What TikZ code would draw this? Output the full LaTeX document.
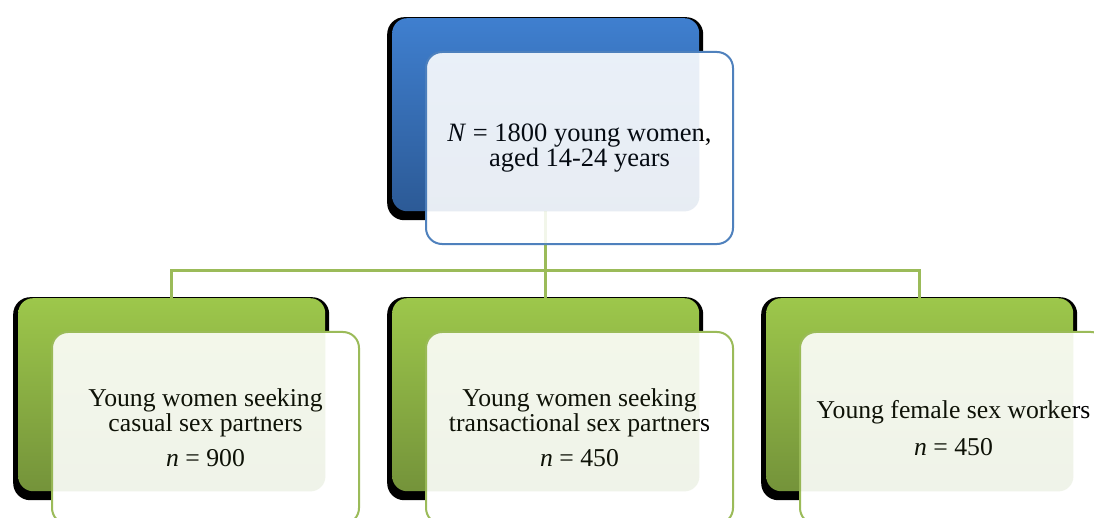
\documentclass[tikz,border=0pt]{standalone}
\usepackage{fontspec}
\setmainfont{Liberation Serif}
\definecolor{blueA}{HTML}{3F7FCF}
\definecolor{blueB}{HTML}{2C5A96}
\definecolor{blueLine}{HTML}{4F81BD}
\definecolor{greenA}{HTML}{9DC74B}
\definecolor{greenB}{HTML}{74933A}
\definecolor{greenLine}{HTML}{9BBB59}
\begin{document}
\begin{tikzpicture}[x=1bp,y=-1bp,
  shadowbox/.style={fill=black, rounded corners=17bp, minimum width=316bp,
    minimum height=203bp, anchor=north west, inner sep=0pt, draw=none},
  backbox/.style={rounded corners=15bp, minimum width=307bp, minimum height=193bp,
    anchor=north west, inner sep=0pt, draw=none},
  blueback/.style={backbox, top color=blueA, bottom color=blueB},
  greenback/.style={backbox, top color=greenA, bottom color=greenB},
  frontbox/.style={rounded corners=16bp, minimum width=307bp, minimum height=192bp,
    anchor=north west, inner sep=0pt, line width=2bp, fill=white,
    align=center, font=\fontsize{25.7bp}{25bp}\selectfont},
  tint/.style={opacity=0.11, rounded corners=15bp},
  conn/.style={draw=greenLine, line width=2.5bp}
]
\useasboundingbox (0,0) rectangle (1094,518);
\clip (0,0) rectangle (1094,518);
\fill[white] (0,0) rectangle (1094,518);

% back boxes
\node[shadowbox] (topsh) at (387,17) {};
\node[blueback] (topback) at (392,18) {};
\node[shadowbox] (lsh) at (13,297) {};
\node[greenback] (lback) at (18,298) {};
\node[shadowbox] (msh) at (387,297) {};
\node[greenback] (mback) at (392,298) {};
\node[shadowbox] (rsh) at (761,297) {};
\node[greenback] (rback) at (766,298) {};

% connectors
\coordinate (bar) at (545,270.7);
\draw[conn] (topback.south) -- (topback.south |- bar);
\draw[conn] (lback.north) |- (topback.south |- bar) -| (rback.north);
\draw[conn] (mback.north) -- (mback.north |- bar);

% front boxes
\node[frontbox, draw=blueLine, font=\fontsize{26.5bp}{24bp}\selectfont] (top) at (425,51)
  {\textit{N} = 1800 young women,\\ aged 14-24 years};
\node[frontbox, draw=greenLine] (left) at (51,331)
  {Young women seeking\\ casual sex partners\\[10bp] \textit{n} = 900};
\node[frontbox, draw=greenLine] (mid) at (425,331)
  {Young women seeking\\ transactional sex partners\\[10bp] \textit{n} = 450};
\node[frontbox, draw=greenLine] (right) at (799,331)
  {Young female sex workers\\[12bp] \textit{n} = 450};

% translucency of the front boxes: back boxes seen through them
\begin{scope}
  \clip[rounded corners=16bp] (top.north west) rectangle (top.south east);
  \shade[tint, top color=blueA, bottom color=blueB]
    (topback.north west) rectangle (topback.south east);
  \draw[conn, opacity=0.12] (topback.south) -- (top.south -| topback.south);
\end{scope}
\begin{scope}
  \clip[rounded corners=16bp] (left.north west) rectangle (left.south east);
  \shade[tint, top color=greenA, bottom color=greenB]
    (lback.north west) rectangle (lback.south east);
\end{scope}
\begin{scope}
  \clip[rounded corners=16bp] (mid.north west) rectangle (mid.south east);
  \shade[tint, top color=greenA, bottom color=greenB]
    (mback.north west) rectangle (mback.south east);
\end{scope}
\begin{scope}
  \clip[rounded corners=16bp] (right.north west) rectangle (right.south east);
  \shade[tint, top color=greenA, bottom color=greenB]
    (rback.north west) rectangle (rback.south east);
\end{scope}
\end{tikzpicture}
\end{document}
